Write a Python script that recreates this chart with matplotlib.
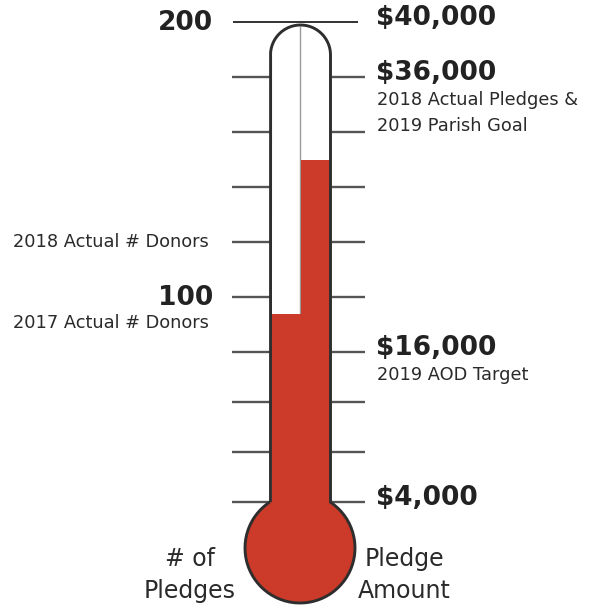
import numpy as np
import matplotlib
matplotlib.use("Agg")
import matplotlib.pyplot as plt
from matplotlib.patches import Circle, PathPatch
from matplotlib.path import Path
from matplotlib.transforms import Affine2D

# scale marks on both sides of the tube
pledge_ticks = [200, 180, 160, 140, 120, 100, 80, 60, 40, 20]
amount_ticks = [40000, 36000, 32000, 28000, 24000, 20000, 16000, 12000, 8000, 4000]

# labelled marks, left side (number of pledges)
pledge_marks = [200, 120, 100]
pledge_titles = ["200", "", "100"]
pledge_notes = ["", "2018 Actual # Donors", "2017 Actual # Donors"]

# labelled marks, right side (pledge amount)
amount_marks = [40000, 36000, 16000, 4000]
amount_titles = ["$40,000", "$36,000", "$16,000", "$4,000"]
amount_notes = ["", "2018 Actual Pledges &\n2019 Parish Goal", "2019 AOD Target", ""]

# current level of the thermometer
pledges_now = 94
amount_now = 30000

RED = "#cc3b29"
INK = "#222222"
W, H = 593, 608


def thermo_scale(step, brk):
    # the drawing has wider gaps above the break than below it
    def fwd(v):
        u = (np.asarray(v, float) - brk) / step
        return np.where(u >= 0, u * 55.0, u * 50.0)

    def inv(p):
        p = np.asarray(p, float)
        return brk + step * np.where(p >= 0, p / 55.0, p / 50.0)
    return fwd, inv


fig = plt.figure(figsize=(W / 100, H / 100), dpi=100)
ax = fig.add_axes([0, 0, 1, 1])
ax.set_xlim(0, W)
f_amt, i_amt = thermo_scale(4000, 16000)
ax.set_yscale("function", functions=(f_amt, i_amt))
ax.set_ylim(float(i_amt(-(H - 352))), float(i_amt(352)))
ax.axis("off")

ax2 = ax.twinx()
f_pl, i_pl = thermo_scale(20, 80)
ax2.set_yscale("function", functions=(f_pl, i_pl))
ax2.set_ylim(float(i_pl(-(H - 352))), float(i_pl(352)))
ax2.axis("off")

# pixel coordinates, origin top left
pix = Affine2D().scale(0.01, -0.01).translate(0, H / 100) + fig.dpi_scale_trans

# thin centre line of the tube
ax.plot([300.3, 300.3], [27, 505], color="#9a9a9a", lw=1.0, transform=pix, zorder=1)

# amount column (right half)
ax.bar(315.5, amount_now, bottom=0, width=29, color=RED, zorder=2)
# pledges column (left half)
ax2.bar(286.5, pledges_now, bottom=0, width=29, color=RED, zorder=2)

# bulb
bx, by, br = 300.0, 548.0, 55.0
ax2.add_patch(Circle((bx, by), br, transform=pix, fc=RED, ec="none", zorder=3))

# outline of tube and bulb
xl, xr, ty = 270.5, 330.5, 55.0
tr = (xr - xl) / 2
th = np.linspace(np.pi, 0, 40)
top = np.column_stack([300.5 + tr * np.cos(th), ty - tr * np.sin(th)])
p0 = np.degrees(np.arccos((xr - bx) / br))
ph = np.radians(np.linspace(p0, -180 - p0, 120))
bulb = np.column_stack([bx + br * np.cos(ph), by - br * np.sin(ph)])
yj = bulb[0, 1]
pts = np.vstack([[[xl, bulb[-1, 1]]], top, [[xr, yj]], bulb])
ax2.add_patch(PathPatch(Path(pts), transform=pix, fill=False, ec="#2e2e2e",
                        lw=2.1, zorder=4, joinstyle="round"))

# tick marks
ax.hlines(amount_ticks[0], 233, 358, color=INK, lw=1.3, zorder=1)
ax.hlines(amount_ticks[1:], 332, 365, color="#555555", lw=1.7, zorder=1)
ax2.hlines(pledge_ticks[1:], 232, 270, color="#555555", lw=1.7, zorder=1)

bold = dict(family="DejaVu Sans", fontweight="bold", fontsize=19, color=INK)
thin = dict(family="DejaVu Sans", fontsize=12.8, color="#2a2a2a")

for v, t, n in zip(amount_marks, amount_titles, amount_notes):
    ax.annotate(t, (376, v), xytext=(0, 4), textcoords="offset pixels",
                ha="left", va="center", **bold)
    if n:
        ax.annotate(n, (377, v), xytext=(0, -14), textcoords="offset pixels",
                    ha="left", va="top", linespacing=1.6, **thin)

for v, t, n in zip(pledge_marks, pledge_titles, pledge_notes):
    if t:
        ax2.annotate(t, (213, v), xytext=(0, -1), textcoords="offset pixels",
                     ha="right", va="center", **bold)
        if n:
            ax2.annotate(n, (209, v), xytext=(0, -26), textcoords="offset pixels",
                         ha="right", va="center", **thin)
    elif n:
        ax2.annotate(n, (209, v), ha="right", va="center", **thin)

cap = dict(family="DejaVu Sans", fontsize=17, color="#2a2a2a", ha="center",
           va="center", linespacing=1.45)
ax2.text(190, 575, "# of\nPledges", transform=pix, **cap)
ax2.text(404, 575, "Pledge\nAmount", transform=pix, **cap)

fig.savefig("out.png", dpi=100, facecolor="white")
